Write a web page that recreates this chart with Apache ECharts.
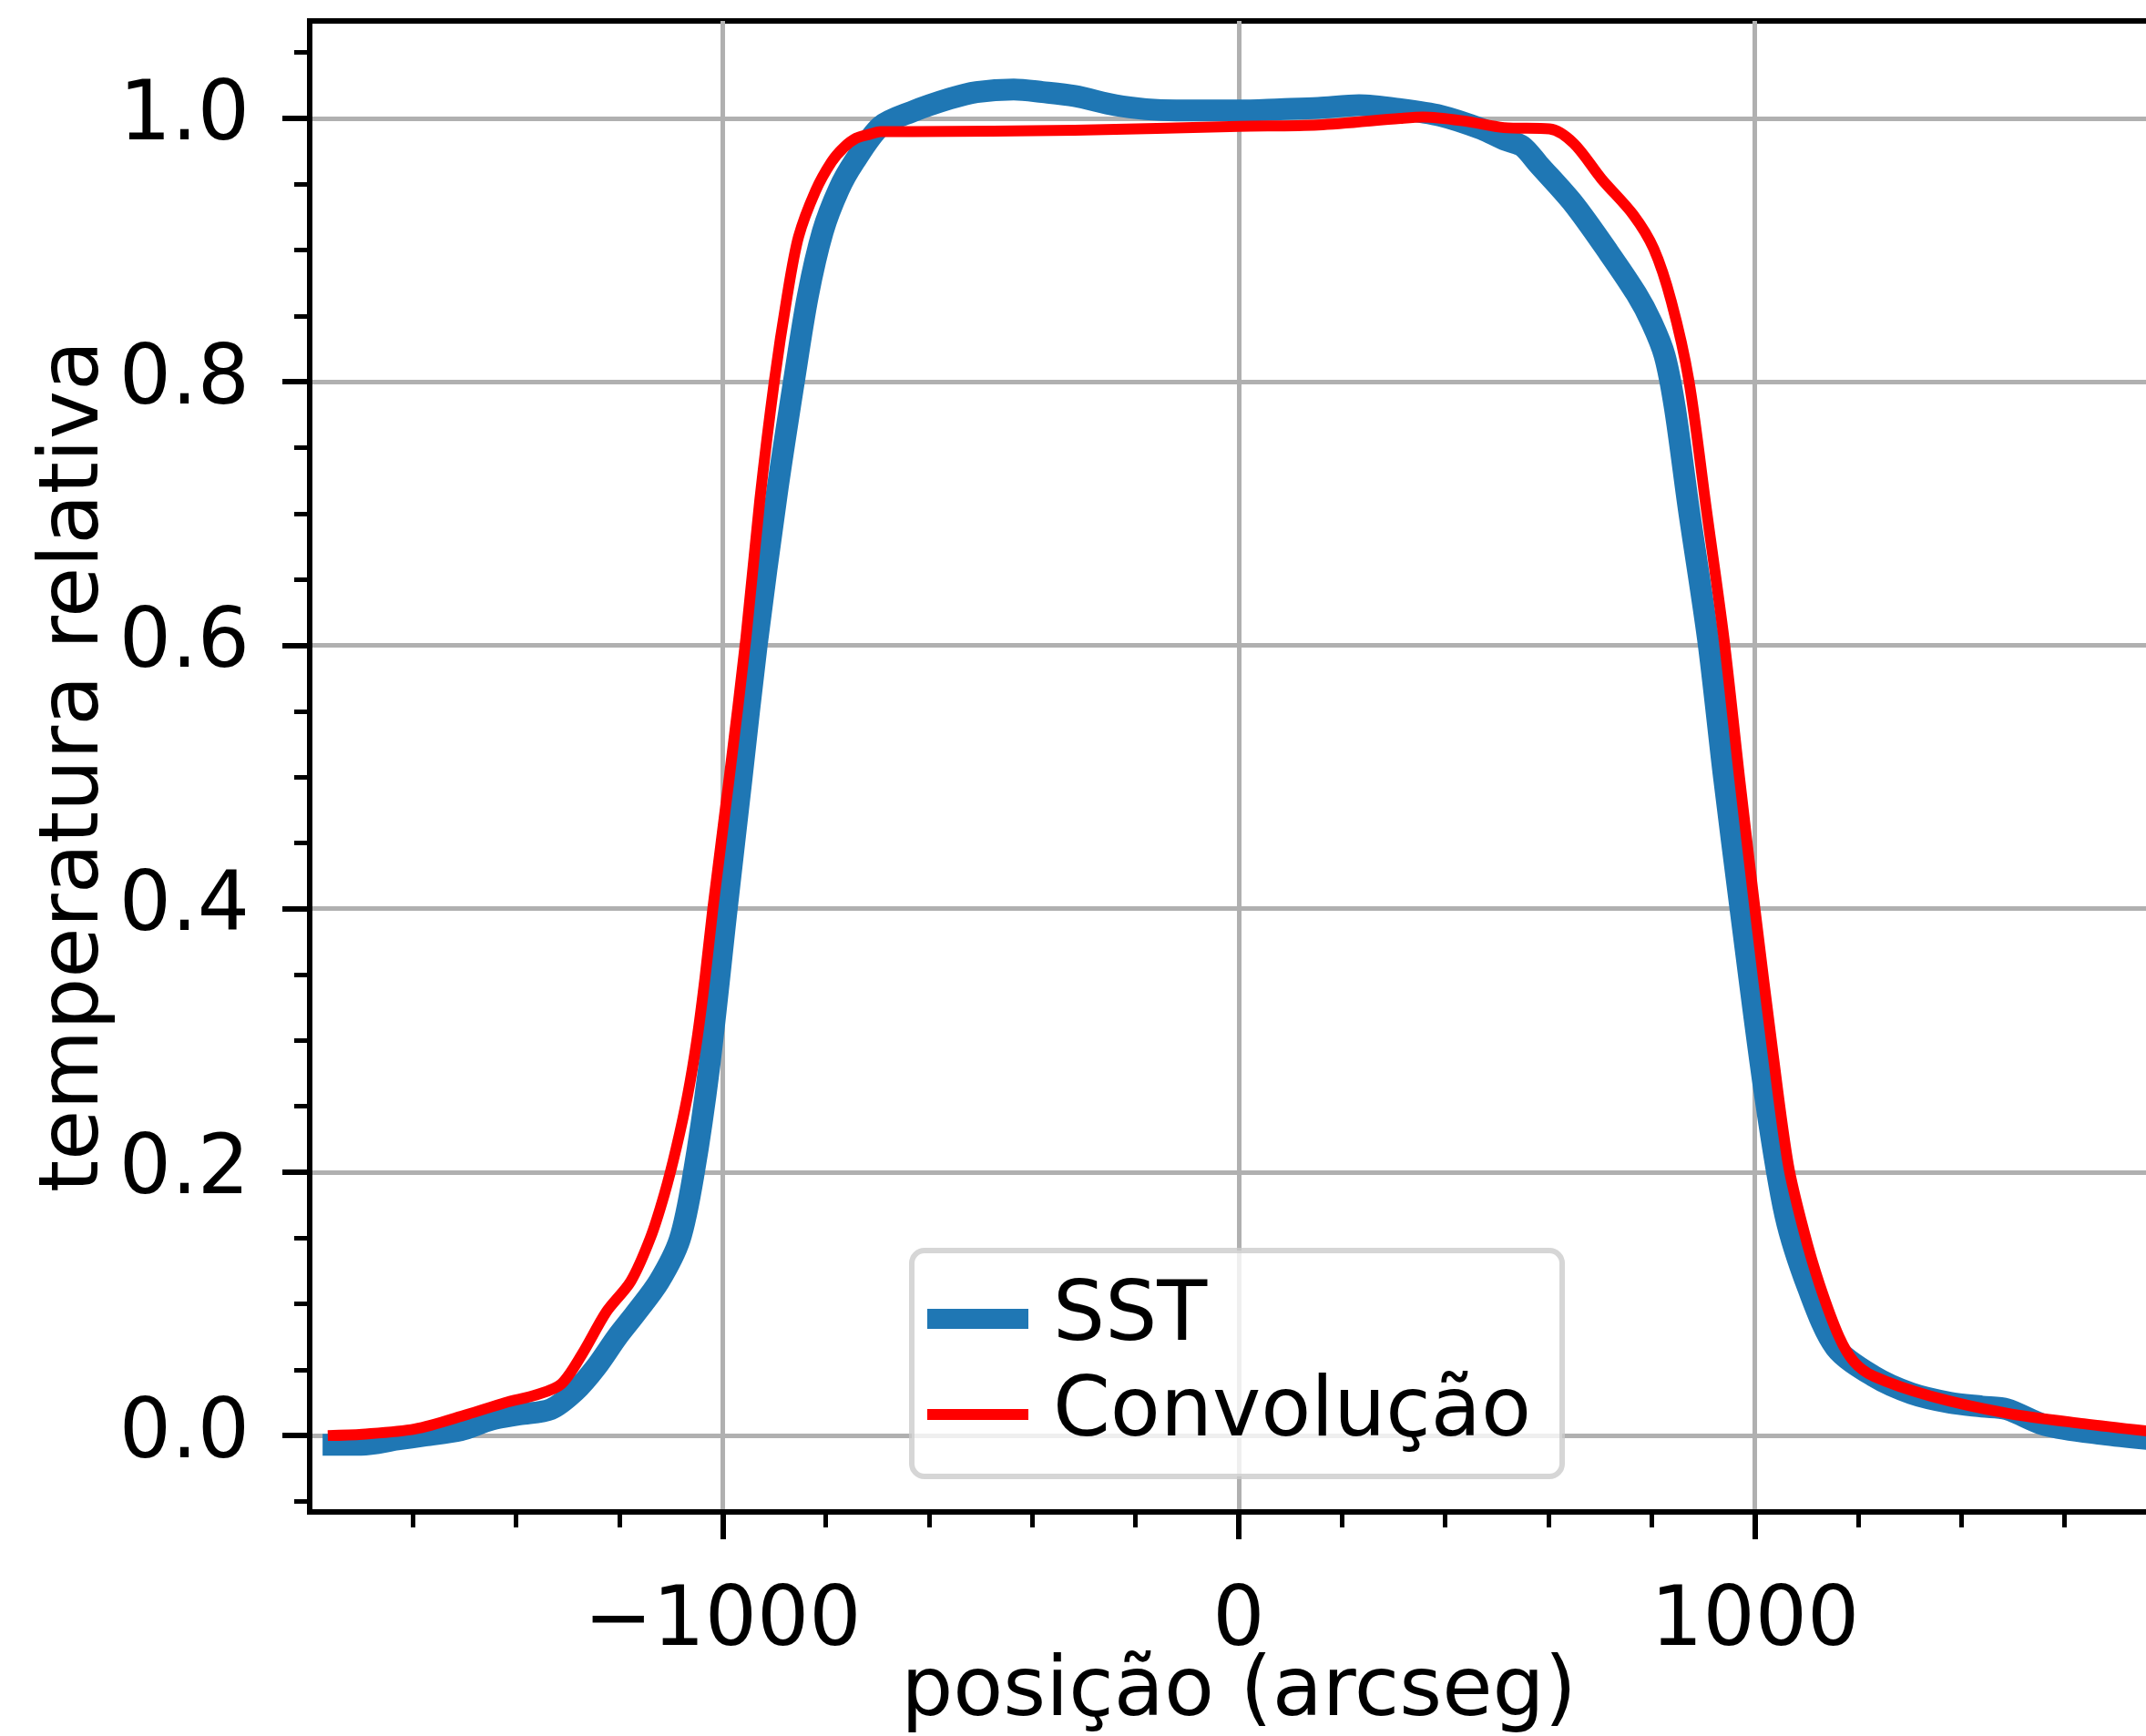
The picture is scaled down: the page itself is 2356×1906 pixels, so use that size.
<!DOCTYPE html>
<html>
<head>
<meta charset="utf-8">
<script src="https://cdn.jsdelivr.net/npm/echarts@6/dist/echarts.min.js"></script>
<style>
html,body{margin:0;padding:0;background:#fff;}
#chart{width:2356px;height:1906px;}
</style>
</head>
<body>
<div id="chart"></div>
<script>
// ---- data ----
const sstX = [-1775,-1700,-1630,-1577,-1508,-1448,-1394,-1333,-1285,-1245,-1204,-1170,-1123,-1083,-1056,-1026,-992,-963,-934,-895,-862,-835,-806,-775,-745,-694,-634,-560,-508,-436,-380,-318,-239,-180,-121,-60,0,80,154,233,313,391,470,514,549,581,649,717,770,800,825,845,872,909,940,972,1019,1059,1104,1156,1230,1303,1377,1440,1488,1562,1674,1770];
const sstY = [-0.007,-0.007,-0.003,0.000,0.004,0.012,0.016,0.020,0.034,0.052,0.075,0.092,0.117,0.149,0.199,0.280,0.400,0.500,0.600,0.715,0.800,0.865,0.914,0.946,0.967,0.994,1.005,1.015,1.020,1.022,1.020,1.017,1.010,1.007,1.006,1.006,1.006,1.007,1.008,1.010,1.007,1.002,0.992,0.984,0.979,0.965,0.935,0.898,0.867,0.845,0.820,0.780,0.703,0.605,0.500,0.400,0.260,0.167,0.111,0.067,0.045,0.032,0.025,0.022,0.020,0.008,0.001,-0.003];

const convX = [-1765,-1698,-1596,-1495,-1421,-1360,-1313,-1272,-1225,-1178,-1140,-1113,-1090,-1068,-1050,-1034,-1019,-987,-955,-928,-900,-875,-853,-820,-789,-765,-741,-715,-694,-634,-318,0,154,313,357,437,514,602,649,703,764,804,838,872,906,940,970,1000,1035,1065,1095,1125,1163,1192,1230,1340,1488,1637,1770];
const convY = [0.000,0.001,0.005,0.016,0.025,0.031,0.039,0.062,0.094,0.117,0.150,0.183,0.218,0.258,0.300,0.348,0.400,0.500,0.605,0.710,0.800,0.865,0.910,0.945,0.967,0.978,0.985,0.988,0.990,0.990,0.991,0.994,0.995,1.000,1.001,0.998,0.993,0.992,0.981,0.954,0.927,0.901,0.861,0.801,0.703,0.605,0.500,0.400,0.290,0.205,0.155,0.115,0.075,0.056,0.045,0.030,0.017,0.009,0.003];

const seriesNames = ['SST', 'Convolução'];

const xMajorTicks = [-1000, 0, 1000];
const xMinorTicks = [-1600,-1400,-1200,-800,-600,-400,-200,200,400,600,800,1200,1400,1600];
const yMajorTicks = [0.0, 0.2, 0.4, 0.6, 0.8, 1.0];
const yMinorTicks = [-0.05,0.05,0.10,0.15,0.25,0.30,0.35,0.45,0.50,0.55,0.65,0.70,0.75,0.85,0.90,0.95,1.05];

const xRange = [-1800, 1800];
const yRange = [-0.058, 1.074];

const xTitle = 'posição (arcseg)';
const yTitle = 'temperatura relativa';

// ---- chart ----
const FONT = 'DejaVu Sans';
const chart = echarts.init(document.getElementById('chart'), null, {renderer: 'canvas'});

const pair = (xs, ys) => xs.map((x, i) => [x, ys[i]]);

const option = {
  animation: false,
  backgroundColor: '#ffffff',
  grid: {
    left: 340, top: 23, right: -24, bottom: 246,
    show: true, borderColor: '#000', borderWidth: 6, backgroundColor: 'transparent',
    containLabel: false, outerBoundsMode: 'none'
  },
  legend: {
    orient: 'vertical',
    left: 1001, top: 1373,
    itemWidth: 111, itemHeight: 22, itemGap: 15,
    padding: [30, 34, 23, 6],
    backgroundColor: 'rgba(255,255,255,0.8)',
    borderColor: 'rgba(204,204,204,0.8)',
    borderWidth: 6,
    borderRadius: 14,
    selectedMode: false,
    textStyle: {fontFamily: FONT, fontSize: 90, color: '#000', lineHeight: 90, padding: [0, 0, 0, 22]},
    data: [
      {name: seriesNames[0], lineStyle: {width: 22}, itemStyle: {opacity: 0}},
      {name: seriesNames[1], lineStyle: {width: 12}, itemStyle: {opacity: 0}}
    ]
  },
  xAxis: [
    {
      type: 'value', min: xRange[0], max: xRange[1], position: 'bottom',
      name: xTitle, nameLocation: 'middle', nameGap: 155, nameMoveOverlap: false,
      nameTextStyle: {fontFamily: FONT, fontSize: 90, color: '#000'},
      axisLine: {show: true, onZero: false, lineStyle: {color: '#000', width: 6}},
      axisTick: {show: true, length: 30, lineStyle: {color: '#000', width: 6}, customValues: xMajorTicks},
      axisLabel: {
        show: true, margin: 78, fontFamily: FONT, fontSize: 90, color: '#000',
        customValues: xMajorTicks,
        formatter: v => (v < 0 ? '\u2212' : '') + Math.abs(v)
      },
      splitLine: {show: true, lineStyle: {color: '#b0b0b0', width: 5}},
      minorTick: {show: false}
    },
    {
      type: 'value', min: xRange[0], max: xRange[1], position: 'bottom',
      axisLine: {show: false, onZero: false},
      axisTick: {show: true, length: 17, lineStyle: {color: '#000', width: 5}, customValues: xMinorTicks},
      axisLabel: {show: false, customValues: xMinorTicks},
      splitLine: {show: false}
    }
  ],
  yAxis: [
    {
      type: 'value', min: yRange[0], max: yRange[1], position: 'left',
      name: yTitle, nameLocation: 'middle', nameGap: 211, nameMoveOverlap: false,
      nameTextStyle: {fontFamily: FONT, fontSize: 90, color: '#000'},
      axisLine: {show: true, onZero: false, lineStyle: {color: '#000', width: 6}},
      axisTick: {show: true, length: 30, lineStyle: {color: '#000', width: 6}, customValues: yMajorTicks},
      axisLabel: {
        show: true, margin: 66, fontFamily: FONT, fontSize: 90, color: '#000',
        padding: [20, 0, 0, 0],
        customValues: yMajorTicks,
        formatter: v => Number(v).toFixed(1)
      },
      splitLine: {show: true, lineStyle: {color: '#b0b0b0', width: 5}}
    },
    {
      type: 'value', min: yRange[0], max: yRange[1], position: 'left',
      axisLine: {show: false, onZero: false},
      axisTick: {show: true, length: 17, lineStyle: {color: '#000', width: 5}, customValues: yMinorTicks},
      axisLabel: {show: false, customValues: yMinorTicks},
      splitLine: {show: false}
    }
  ],
  series: [
    {
      name: seriesNames[0], type: 'line', xAxisIndex: 0, yAxisIndex: 0,
      data: pair(sstX, sstY),
      symbol: 'none', smooth: 0.3,
      lineStyle: {color: '#1f77b4', width: 24, cap: 'butt', join: 'round'},
      itemStyle: {color: '#1f77b4'},
      z: 2
    },
    {
      name: seriesNames[1], type: 'line', xAxisIndex: 0, yAxisIndex: 0,
      data: pair(convX, convY),
      symbol: 'none', smooth: 0.3,
      lineStyle: {color: '#ff0000', width: 12, cap: 'butt', join: 'round'},
      itemStyle: {color: '#ff0000'},
      z: 3
    }
  ]
};
chart.setOption(option);
</script>
</body>
</html>
